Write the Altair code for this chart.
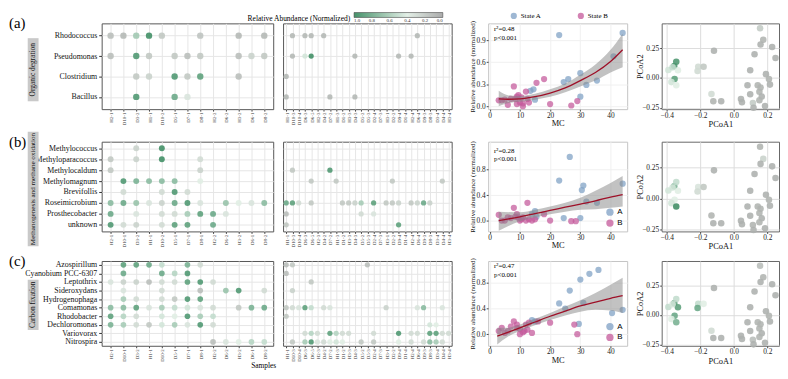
import altair as alt
import pandas as pd

SERIF = "Liberation Serif"
SANS = "Liberation Sans"
GRID = "#e6e6e6"

# ---------------- sample (column) labels ----------------
samples_left = ["H2-1", "D10-1", "D3-2", "H1-1", "D10-2", "D5-1", "D7-1", "D8-1",
                "H2-2", "D6-2", "H3-2", "D6-1", "D8-2"]
samples_right = ["H1-1", "D10-3", "D10-4", "D6-3", "D6-5", "H2-3", "D4-2", "D7-2", "H1-3",
                 "D1-2", "H3-3", "D4-3", "D5-2", "D5-3", "D2-4", "D7-3", "H3-1", "D2-2",
                 "D9-4", "D1-4", "H2-4", "D6-4", "D9-3", "D8-3", "D3-4", "D4-4", "H3-4"]

# ---------------- genera ----------------
genera_a = ["Rhodococcus", "Pseudomonas", "Clostridium", "Bacillus"]
genera_b = ["Methylococcus", "Methyloparacoccus", "Methylocaldum", "Methylomagnum",
            "Brevifollis", "Roseimicrobium", "Prosthecobacter", "unknown"]
genera_c = ["Azospirillum", "Cyanobium PCC-6307", "Leptothrix", "Sideroxydans",
            "Hydrogenophaga", "Comamonas", "Rhodobacter", "Dechloromonas",
            "Variovorax", "Nitrospira"]

# ---------------- normalized relative abundance {genus: {column index: value}} ----------------
a_left = {
    "Rhodococcus": {0: 0.15, 1: 0.12, 2: 0.62, 3: 0.95, 4: 0.2, 7: 0.18, 10: 0.12, 12: 0.12},
    "Pseudomonas": {0: 0.15, 2: 0.9, 3: 0.2, 5: 0.2, 6: 0.15, 7: 0.2, 10: 0.15, 11: 0.25, 12: 0.2},
    "Clostridium": {2: 0.2, 3: 0.25, 5: 0.9, 6: 0.2, 7: 0.85, 10: 0.15},
    "Bacillus": {2: 0.9, 5: 0.8, 6: 0.35},
}
a_right = {
    "Rhodococcus": {1: 0.12, 3: 0.12, 4: 0.12, 6: 0.12, 21: 0.12},
    "Pseudomonas": {1: 0.12, 3: 0.45, 4: 0.95, 11: 0.12, 18: 0.12, 20: 0.12},
    "Clostridium": {0: 0.12},
    "Bacillus": {0: 0.12, 7: 0.12, 11: 0.12},
}
b_left = {
    "Methylococcus": {2: 0.25, 4: 0.95},
    "Methyloparacoccus": {0: 0.2, 2: 0.25, 4: 0.95, 7: 0.3},
    "Methylocaldum": {0: 0.2, 7: 0.25},
    "Methylomagnum": {1: 0.9, 2: 0.75, 3: 0.7, 4: 0.7, 5: 0.7, 7: 0.4},
    "Brevifollis": {1: 0.3, 4: 0.3, 5: 0.9, 6: 0.3},
    "Roseimicrobium": {0: 0.7, 1: 0.8, 2: 0.65, 3: 0.35, 4: 0.25, 5: 0.8, 6: 0.9, 7: 0.35,
                       9: 0.65, 10: 0.4, 11: 0.35, 12: 0.7},
    "Prosthecobacter": {0: 0.8, 2: 0.35, 4: 0.3, 5: 0.3, 6: 0.6, 7: 0.85, 8: 0.8, 9: 0.35},
    "unknown": {0: 0.9, 1: 0.3, 2: 0.25, 4: 0.3, 5: 0.85, 6: 0.85, 8: 0.8},
}
b_right = {
    "Methylocaldum": {1: 0.2, 7: 0.9},
    "Methylomagnum": {4: 0.2, 8: 0.2, 17: 0.2, 25: 0.2},
    "Roseimicrobium": {0: 0.8, 1: 0.85, 2: 0.3, 4: 0.2, 9: 0.2, 10: 0.2, 11: 0.25, 12: 0.6,
                       14: 0.85, 16: 0.2, 17: 0.2, 18: 0.25, 20: 0.2, 21: 0.25, 22: 0.8, 23: 0.25},
    "Prosthecobacter": {0: 0.15, 12: 0.3, 14: 0.35},
    "unknown": {0: 0.2, 18: 0.85},
}
c_left = {
    "Azospirillum": {1: 0.85, 2: 0.85, 3: 0.8, 4: 0.5, 6: 0.75, 7: 0.3},
    "Cyanobium PCC-6307": {1: 0.8, 4: 0.8, 5: 0.55, 6: 0.9},
    "Leptothrix": {0: 0.35, 1: 0.25, 2: 0.25, 3: 0.15, 4: 0.3, 5: 0.3, 6: 0.85, 7: 0.9, 8: 0.3},
    "Sideroxydans": {1: 0.35, 4: 0.3, 7: 0.15, 9: 0.65, 10: 0.9, 12: 0.3},
    "Hydrogenophaga": {1: 0.6, 2: 0.3, 4: 0.3, 5: 0.2, 6: 0.9, 7: 0.85},
    "Comamonas": {0: 0.7, 1: 0.7, 2: 0.85, 3: 0.35, 4: 0.6, 5: 0.5, 6: 0.45, 7: 0.35, 8: 0.3,
                  10: 0.2, 11: 0.75, 12: 0.8},
    "Rhodobacter": {0: 0.85, 1: 0.55, 2: 0.3, 4: 0.45, 5: 0.4, 6: 0.9, 7: 0.6, 8: 0.5},
    "Dechloromonas": {0: 0.75, 1: 0.6, 2: 0.3, 3: 0.2, 4: 0.45, 5: 0.6, 6: 0.35, 7: 0.9, 8: 0.3},
    "Nitrospira": {8: 0.15, 9: 0.35, 10: 0.4, 11: 0.55, 12: 0.5},
}
c_right = {
    "Azospirillum": {0: 0.15, 1: 0.2, 13: 0.15},
    "Cyanobium PCC-6307": {0: 0.15},
    "Leptothrix": {4: 0.2},
    "Sideroxydans": {1: 0.25},
    "Comamonas": {0: 0.2, 1: 0.3, 2: 0.35, 3: 0.85, 4: 0.5, 6: 0.3, 7: 0.35, 16: 0.25,
                  21: 0.35, 22: 0.7, 25: 0.35},
    "Rhodobacter": {0: 0.2},
    "Dechloromonas": {23: 0.45, 24: 0.4},
    "Variovorax": {3: 0.3, 4: 0.55, 5: 0.3, 7: 0.85, 8: 0.55, 9: 0.3, 10: 0.3, 14: 0.3, 18: 0.9,
                   20: 0.3, 21: 0.3, 23: 0.85, 24: 0.85, 25: 0.3, 26: 0.3},
    "Nitrospira": {1: 0.2, 3: 0.6, 4: 0.9, 5: 0.35, 6: 0.3, 7: 0.4, 8: 0.45, 9: 0.4, 12: 0.2,
                   14: 0.2, 18: 0.4, 20: 0.3, 22: 0.3, 23: 0.7, 24: 0.6, 25: 0.3},
}

# ---------------- scatter: MC vs relative abundance ----------------
a_mc_A = [23, 44, 30, 26, 24.5, 32, 35.5, 30, 15, 13.5, 14.5, 41]
a_ab_A = [0.97, 1.0, 0.45, 0.37, 0.33, 0.29, 0.35, 0.13, 0.09, 0.21, 0.23, 0.68]
a_mc_B = [3, 4, 5, 6, 7, 8, 8.5, 9, 9, 9.5, 10, 10.5, 11, 11, 12, 12.5, 13, 15.5, 18, 20, 27, 29]
a_ab_B = [0.08, 0.08, 0.09, 0.02, 0.1, 0.27, 0.1, 0.13, 0.03, 0.15, 0.05, 0.12, 0.04, 0.0,
          0.2, 0.1, 0.05, 0.32, 0.37, 0.03, 0.01, 0.07]
b_mc_A = [26.5, 23, 30.5, 31, 44, 35.5, 32, 24.5, 30, 15, 15.5, 14]
b_ab_A = [1.0, 0.63, 0.48, 0.55, 0.58, 0.28, 0.3, 0.04, 0.04, 0.15, 0.06, 0.1]
b_mc_B = [3, 4, 5, 6, 7, 8, 8.5, 9, 9.5, 10, 10.5, 11, 12, 12.5, 13, 14, 15, 18, 20, 27, 28.5]
b_ab_B = [0.09, 0.0, 0.0, 0.05, 0.04, 0.2, 0.06, 0.1, 0.05, 0.0, 0.02, 0.05, 0.0, 0.28, 0.02,
          0.0, 0.02, 0.1, 0.0, -0.01, -0.01]
c_mc_A = [36, 33, 30, 26.5, 23, 31, 40.5, 44, 29.5, 14, 15, 25]
c_ab_A = [1.0, 0.94, 0.85, 0.68, 0.48, 0.49, 0.33, 0.38, 0.16, 0.22, 0.2, 0.4]
c_mc_B = [3, 4, 5, 6, 7, 8, 9, 9, 10, 10, 11, 11.5, 12, 12.5, 13, 14, 16, 20, 28, 29]
c_ab_B = [0.05, 0.1, 0.02, 0.05, 0.12, 0.2, 0.1, 0.15, 0.08, 0.0, 0.03, 0.05, 0.15, 0.07,
          0.18, 0.02, 0.2, 0.18, 0.15, 0.0]

# fitted curves with confidence band
a_fit_x = [3, 6, 10, 15, 20, 25, 30, 35, 40, 44]
a_fit = [0.10, 0.095, 0.10, 0.13, 0.18, 0.25, 0.35, 0.46, 0.61, 0.77]
a_lo = [0.0, 0.04, 0.06, 0.09, 0.13, 0.19, 0.27, 0.35, 0.46, 0.53]
a_hi = [0.21, 0.15, 0.14, 0.17, 0.23, 0.31, 0.43, 0.57, 0.77, 0.99]
b_fit_x = [3, 10, 15, 20, 25, 30, 35, 40, 44]
b_fit = [0.0, 0.06, 0.11, 0.16, 0.21, 0.26, 0.31, 0.37, 0.41]
b_lo = [-0.16, -0.01, 0.05, 0.10, 0.14, 0.17, 0.18, 0.20, 0.22]
b_hi = [0.14, 0.13, 0.17, 0.22, 0.28, 0.36, 0.47, 0.59, 0.70]
c_fit_x = [2.5, 6, 10, 15, 20, 25, 30, 35, 40, 44]
c_fit = [-0.03, 0.03, 0.10, 0.19, 0.28, 0.36, 0.44, 0.50, 0.56, 0.60]
c_lo = [-0.16, -0.04, 0.05, 0.14, 0.22, 0.29, 0.35, 0.38, 0.37, 0.33]
c_hi = [0.10, 0.10, 0.15, 0.24, 0.33, 0.43, 0.53, 0.64, 0.77, 0.88]

# ---------------- PCoA coordinates (shared) and colour values per panel ----------------
pc1 = [-0.39, -0.355, -0.343, -0.333, -0.353, -0.372, -0.343, -0.365,
       -0.212, -0.18, -0.216, -0.118, -0.133, -0.122, -0.075,
       0.157, 0.176, 0.16, 0.124, 0.229, 0.249, 0.098, 0.192, 0.21, 0.216, 0.082, 0.143,
       0.098, 0.153, 0.167, 0.114, 0.153, 0.186, 0.118, 0.043, 0.049, 0.16]
pc2 = [0.067, 0.10, 0.135, 0.065, -0.008, -0.035, -0.062, 0.09,
       0.094, 0.094, 0.059, 0.228, -0.135, -0.196, -0.196,
       0.417, 0.32, 0.28, 0.199, 0.26, 0.167, 0.065, 0.032, -0.008, -0.056, -0.062, -0.062,
       -0.137, -0.115, -0.156, -0.21, -0.188, -0.236, -0.25, -0.177, -0.204, -0.08]
pc_val_a = [0.45, 0.9, 0.9, 0.4, 0.85, 0.45, 0.4, 0.5,
            0.3, 0.2, 0.3, 0.08, 0.3, 0.1, 0.08,
            0.22, 0.1, 0.08, 0.08, 0.08, 0.08, 0.08, 0.08, 0.1, 0.08, 0.08, 0.1,
            0.08, 0.1, 0.08, 0.22, 0.1, 0.08, 0.08, 0.08, 0.08, 0.1]
pc_val_b = [0.45, 0.75, 0.5, 0.4, 0.4, 0.45, 0.95, 0.45,
            0.35, 0.2, 0.3, 0.08, 0.1, 0.08, 0.08,
            0.1, 0.25, 0.08, 0.08, 0.08, 0.08, 0.08, 0.08, 0.1, 0.08, 0.08, 0.1,
            0.08, 0.1, 0.08, 0.1, 0.1, 0.08, 0.08, 0.08, 0.08, 0.1]
pc_val_c = [0.5, 0.85, 0.5, 0.85, 0.8, 0.4, 0.75, 0.45,
            0.5, 0.4, 0.8, 0.08, 0.3, 0.08, 0.08,
            0.15, 0.1, 0.08, 0.08, 0.08, 0.08, 0.08, 0.08, 0.1, 0.08, 0.08, 0.1,
            0.08, 0.1, 0.08, 0.15, 0.1, 0.08, 0.08, 0.08, 0.08, 0.1]

legend_values = [1.0, 0.8, 0.6, 0.4, 0.2, 0.0]

# ---------------- helpers ----------------
COLOR_SCALE = alt.Scale(domain=[1.0, 0.4, 0.0], range=["#2e8457", "#e0eee4", "#a0a0a0"],
                        interpolate="rgb")
BLUE, PINK = "#7d9fc4", "#c4589a"

GRAD_LEGEND = alt.Legend(
    orient="none", legendX=148, legendY=-11, direction="horizontal", titleOrient="left",
    title="Relative Abundance (Normalized)", titleFont=SERIF, titleFontSize=7.6,
    titleFontWeight="normal", titleBaseline="top", titlePadding=3, gradientLength=90,
    gradientThickness=5, gradientStrokeColor="#333", gradientStrokeWidth=0.6,
    values=legend_values, format=".1f", labelFontSize=5, labelFont=SERIF, labelOffset=1,
    labelColor="#333")


def bubble_df(genera, cells, samples):
    rows = []
    for g in genera:
        for col, v in cells.get(g, {}).items():
            rows.append({"sample": samples[col], "genus": g, "v": v})
    return pd.DataFrame(rows)


def bubble(genera, cells, samples, w, h, ypad, xpad, size, left):
    df = bubble_df(genera, cells, samples)
    if left:
        yaxis = alt.Axis(title=None, labelFont=SERIF, labelFontSize=8, tickSize=3,
                         tickColor="#333", labelPadding=2, domain=False, grid=True,
                         gridColor=GRID, labelColor="#111")
    else:
        yaxis = alt.Axis(title=None, labels=False, ticks=False, domain=False, grid=True,
                         gridColor=GRID, minExtent=0, maxExtent=0)
    xaxis = alt.Axis(title=None, labelAngle=270, labelFontSize=5, labelFont=SERIF,
                     tickSize=2, labelPadding=1, domain=False, grid=True, gridColor=GRID,
                     labelColor="#333", tickColor="#444")
    return alt.Chart(df).mark_circle(size=size, opacity=0.88).encode(
        x=alt.X("sample:O", scale=alt.Scale(domain=samples, padding=xpad), axis=xaxis),
        y=alt.Y("genus:O", scale=alt.Scale(domain=genera, padding=ypad), axis=yaxis),
        color=alt.Color("v:Q", scale=COLOR_SCALE, legend=GRAD_LEGEND),
    ).properties(width=w, height=h)


def row_deco(tag, text, y0, y1, fs):
    one = pd.DataFrame({"t": [tag], "s": [text]})
    tag_c = alt.Chart(one).mark_text(align="left", baseline="middle", font=SERIF,
                                     fontSize=15).encode(
        text="t:N", x=alt.value(-94), y=alt.value(0))
    box = alt.Chart(one).mark_rect(color="#c9c9c9").encode(
        x=alt.value(-75), x2=alt.value(-64), y=alt.value(y0), y2=alt.value(y1))
    txt = alt.Chart(one).mark_text(angle=270, align="center", baseline="middle", font=SERIF,
                                   fontSize=fs, color="#111").encode(
        text="s:N", x=alt.value(-69.5), y=alt.value((y0 + y1) / 2))
    return [tag_c, box, txt]


def spacer(xpos):
    return alt.Chart(pd.DataFrame({"t": [0]})).mark_rule(strokeOpacity=0).encode(
        x=alt.value(xpos), x2=alt.value(xpos + 1), y=alt.value(5))


def scatter(mcA, abA, mcB, abB, labels, fx, fit, lo, hi, ydom, yvals, w, h, stat,
            stat_y, legend):
    pts = pd.DataFrame({"mc": mcA + mcB, "ab": abA + abB,
                        "state": [labels[0]] * len(mcA) + [labels[1]] * len(mcB)})
    fdf = pd.DataFrame({"mc": fx, "fit": fit, "lo": lo, "hi": hi})
    xs = alt.Scale(domain=[-0.5, 45.5], nice=False, zero=False)
    ys = alt.Scale(domain=ydom, nice=False, zero=False)
    xaxis = alt.Axis(title="MC", values=[0, 10, 20, 30, 40], labelFontSize=7.5,
                     titleFontSize=8.5, tickSize=2, labelPadding=0, titlePadding=0,
                     gridColor="#f0f0f0", domain=False, tickColor="#444", labelFlush=False)
    yaxis = alt.Axis(title="Relative abundance (normalized)", values=yvals, format=".1f",
                     labelFontSize=7.5, titleFontSize=7, tickSize=2, labelPadding=1,
                     titlePadding=0, minExtent=13, maxExtent=13, gridColor="#f0f0f0",
                     domain=False, tickColor="#444")
    p = alt.Chart(pts).mark_circle(size=40, opacity=0.72).encode(
        x=alt.X("mc:Q", scale=xs, axis=xaxis),
        y=alt.Y("ab:Q", scale=ys, axis=yaxis),
        fill=alt.Fill("state:N", scale=alt.Scale(domain=labels, range=[BLUE, PINK]),
                      legend=legend),
    )
    band = alt.Chart(fdf).mark_area(color="#858585", opacity=0.5, interpolate="monotone",
                                    clip=True).encode(
        x=alt.X("mc:Q", scale=xs, axis=xaxis),
        y=alt.Y("lo:Q", scale=ys, axis=yaxis), y2="hi:Q")
    line = alt.Chart(fdf).mark_line(color="#9e1028", strokeWidth=1.3, interpolate="monotone",
                                    clip=True).encode(
        x=alt.X("mc:Q", scale=xs, axis=xaxis),
        y=alt.Y("fit:Q", scale=ys, axis=yaxis))
    st = alt.Chart(pd.DataFrame({"t": [stat]})).mark_text(
        align="left", baseline="top", font=SERIF, fontSize=7, lineBreak="\n",
        lineHeight=9).encode(text="t:N", x=alt.value(6), y=alt.value(stat_y))
    return alt.layer(p, band, line, st, spacer(-30)).properties(
        width=w, height=h, view=alt.ViewBackground(stroke="#c4c4c4"))


def pcoa(vals, w, h):
    df = pd.DataFrame({"p1": pc1, "p2": pc2, "v": vals})
    pts = alt.Chart(df).mark_circle(size=44, opacity=0.88).encode(
        x=alt.X("p1:Q", scale=alt.Scale(domain=[-0.43, 0.27], nice=False, zero=False),
                axis=alt.Axis(title="PCoA1", values=[-0.4, -0.2, 0.0, 0.2], format=".1f",
                              labelFontSize=7.5, titleFontSize=8.5, tickSize=2, labelPadding=0,
                              titlePadding=1, gridColor="#dcdcdc", domain=False,
                              tickColor="#444")),
        y=alt.Y("p2:Q", scale=alt.Scale(domain=[-0.262, 0.458], nice=False, zero=False),
                axis=alt.Axis(title="PCoA2", values=[-0.25, 0.0, 0.25], format=".2f",
                              labelFontSize=7.5, titleFontSize=8.5, tickSize=2, labelPadding=1,
                              titlePadding=1, minExtent=16, maxExtent=16, gridColor="#dcdcdc",
                              domain=False, tickColor="#444")),
        color=alt.Color("v:Q", scale=COLOR_SCALE, legend=GRAD_LEGEND),
    )
    return alt.layer(pts, spacer(-28)).properties(
        width=w, height=h, view=alt.ViewBackground(stroke="#666"))


WL, WR, WS, WP = 174, 171, 141, 119
HA, HB, HC = 87, 91, 86

state_legend = alt.Legend(orient="none", legendX=22, legendY=-12, direction="horizontal",
                          title=None, labelFont=SERIF, labelFontSize=7, symbolSize=40,
                          symbolOpacity=0.75, columnPadding=36, labelOffset=3)
ab_legend = alt.Legend(orient="bottom-right", title=None, labelFont=SANS, labelFontSize=8,
                       symbolSize=55, symbolOpacity=0.75, offset=4, rowPadding=2,
                       labelOffset=3)

# ---------------- rows ----------------
a1 = alt.layer(bubble(genera_a, a_left, samples_left, WL, HA, 0.6, 0.7, 42, True),
               *row_deco("(a)", "Organic degration", 15, 79, 7.5))
a2 = bubble(genera_a, a_right, samples_right, WR, HA, 0.6, 0.5, 28, False)
a3 = scatter(a_mc_A, a_ab_A, a_mc_B, a_ab_B, ["State A", "State B"], a_fit_x, a_fit, a_lo,
             a_hi, [-0.04, 1.13], [0.0, 0.3, 0.6, 0.9], WS, HA, "r²=0.48\np<0.001", 2,
             state_legend)
a4 = pcoa(pc_val_a, WP, HA)

b1 = alt.layer(bubble(genera_b, b_left, samples_left, WL, HB, 0.6, 0.7, 36, True),
               *row_deco("(b)", "Methanogenesis and methane oxidation", -10, 106, 7.2))
b2 = bubble(genera_b, b_right, samples_right, WR, HB, 0.6, 0.5, 28, False)
b3 = scatter(b_mc_A, b_ab_A, b_mc_B, b_ab_B, ["A", "B"], b_fit_x, b_fit, b_lo, b_hi,
             [-0.17, 1.24], [0.0, 0.4, 0.8], WS, HB, "r²=0.28\np<0.001", 5, ab_legend)
b4 = pcoa(pc_val_b, WP, HB)

samples_title = alt.Chart(pd.DataFrame({"t": ["Samples"]})).mark_text(
    font=SERIF, fontSize=7.5, align="right", baseline="middle").encode(
    text="t:N", x=alt.value(177), y=alt.value(107))
c1 = alt.layer(bubble(genera_c, c_left, samples_left, WL, HC, 0.45, 0.7, 33, True),
               *row_deco("(c)", "Carbon fixation", 19, 70, 7.5), samples_title)
c2 = bubble(genera_c, c_right, samples_right, WR, HC, 0.45, 0.5, 28, False)
c3 = scatter(c_mc_A, c_ab_A, c_mc_B, c_ab_B, ["A", "B"], c_fit_x, c_fit, c_lo, c_hi,
             [-0.18, 1.14], [0.0, 0.4, 0.8], WS, HC, "r²=0.47\np<0.001", 1, ab_legend)
c4 = pcoa(pc_val_c, WP, HC)

chart = alt.concat(a1, a2, a3, a4, b1, b2, b3, b4, c1, c2, c3, c4, columns=4,
                   spacing={"row": 2, "column": 5}, align="each").resolve_scale(
    color="shared", fill="independent").properties(
    padding=0, background="white").configure_view(
    stroke="#555", strokeWidth=1).configure_axis(
    labelFont=SERIF, titleFont=SERIF, titleFontWeight="normal", labelColor="#222",
    titleColor="#111").configure_legend(labelFont=SERIF, titleFont=SERIF).configure_text(
    font=SERIF)

chart.save("out.html", embed_options={"renderer": "svg", "actions": False})
